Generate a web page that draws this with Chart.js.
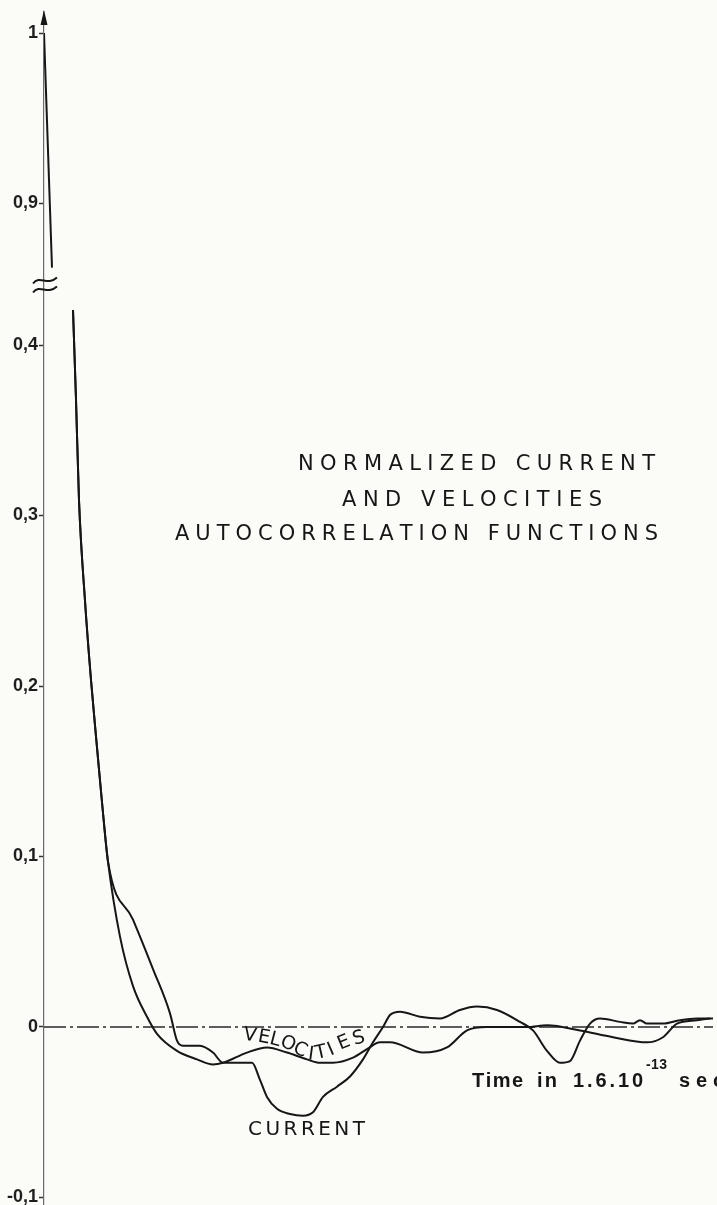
<!DOCTYPE html>
<html>
<head>
<meta charset="utf-8">
<script src="https://cdn.jsdelivr.net/npm/chart.js@4.4.0/dist/chart.umd.min.js"></script>
<style>
  body { margin: 0; background: #fbfbf8; }
  #wrap { width: 717px; height: 1205px; }
</style>
</head>
<body>
<div id="wrap"><canvas id="chartId" width="717" height="1205"></canvas></div>
<script>
// time axis in units of 1.6e-13 s
var xMax = 67.3

// upper part of the broken axis (both functions coincide there)
var timeTop = [0, 0.8]
var valueTop = [1.0, 0.862]

// steep common descent below the axis break
var timeHead = [2.9, 3.2, 3.5, 4.1, 4.7, 5.3, 5.9, 6.4]
var valueHead = [0.4205, 0.368, 0.309, 0.250, 0.2035, 0.164, 0.1255, 0.097]

var currentTime = [8.9, 10.9, 12.6, 13.3, 13.9, 15.6, 16.9, 17.9, 20.8, 21.6, 22.3, 23.3, 24.6, 25.9, 26.9,
    27.9, 29.3, 30.6, 31.9, 32.9, 33.9, 34.6, 35.6, 37.6, 39.6, 41.6, 43.3, 45.3, 47.6, 48.9,
    50.3, 51.6, 52.6, 53.6, 54.6, 55.6, 57.6, 58.9, 59.6, 60.3, 61.9, 63.6, 65.3, 66.9]
var currentValue = [0.063, 0.034, 0.008, -0.008, -0.011, -0.011, -0.015, -0.021, -0.021, -0.031, -0.041, -0.048, -0.051, -0.052, -0.050,
    -0.041, -0.035, -0.029, -0.019, -0.009, 0, 0.007, 0.009, 0.006, 0.005, 0.010, 0.012, 0.010, 0.003, -0.002,
    -0.014, -0.021, -0.020, -0.008, 0.002, 0.005, 0.003, 0.002, 0.004, 0.002, 0.002, 0.004, 0.005, 0.005]

var velocityTime = [7.6, 8.9, 10.3, 11.3, 13.3, 15.3, 16.9, 17.9, 20.3, 22.3, 24.3, 26.3, 27.6, 28.9, 30.9,
    32.3, 33.6, 34.6, 37.9, 40.3, 42.3, 44.3, 48.3, 50.3, 53.6, 56.9, 60.3, 61.9, 63.3, 65.3, 66.6]
var velocityValue = [0.053, 0.024, 0.006, -0.004, -0.014, -0.019, -0.022, -0.021, -0.015, -0.012, -0.015, -0.019, -0.021, -0.021, -0.018,
    -0.013, -0.009, -0.009, -0.015, -0.012, -0.002, 0, 0, 0.001, -0.002, -0.006, -0.009, -0.006, 0.002, 0.004, 0.005]

var topTicks = [0.9, 1.0]
var bottomTicks = [-0.1, 0, 0.1, 0.2, 0.3, 0.4]
var zeroLineEnd = 66.9

function points(xs, ys) {
    return xs.map((x, i) => ({ x: x, y: ys[i] }))
}

function tickText(v) {
    if (Math.abs(v) < 1e-9) return '0'
    if (Math.abs(v - 1) < 1e-9) return '1'
    return v.toFixed(1).replace('.', ',')
}

// spreads the characters of a string evenly between two x positions
function fitText(ctx, text, left, right, baseline) {
    var chars = [...text]
    var widths = chars.map(c => ctx.measureText(c).width)
    var natural = widths.reduce((a, b) => a + b, 0)
    var gap = chars.length > 1 ? (right - left - natural) / (chars.length - 1) : 0
    var x = left
    chars.forEach((c, i) => {
        ctx.fillText(c, x, baseline)
        x += widths[i] + gap
    })
}

var ink = '#161616'

var decorations = {
    id: 'decorations',
    afterDraw(chart) {
        var ctx = chart.ctx
        var xs = chart.scales.x
        var yb = chart.scales.yBottom
        var yt = chart.scales.yTop
        var ax = chart.chartArea.left

        ctx.save()
        ctx.fillStyle = ink
        ctx.strokeStyle = ink

        // arrow head on the value axis
        ctx.beginPath()
        ctx.moveTo(ax, yt.top - 2)
        ctx.lineTo(ax - 3.5, yt.top + 13)
        ctx.lineTo(ax + 3.5, yt.top + 13)
        ctx.closePath()
        ctx.fill()

        // break mark between the two axis parts
        ctx.lineWidth = 2
        var by = yb.top
        ;[-5, 4].forEach(d => {
            ctx.beginPath()
            ctx.moveTo(ax - 11, by + d + 3)
            ctx.bezierCurveTo(ax - 4, by + d - 6, ax + 3, by + d + 6, ax + 13, by + d - 3)
            ctx.stroke()
        })

        ctx.textAlign = 'left'
        ctx.textBaseline = 'alphabetic'

        // title
        ctx.font = '21px "DejaVu Sans"'
        fitText(ctx, 'NORMALIZED CURRENT', 298, 655, 470)
        fitText(ctx, 'AND VELOCITIES', 342, 602, 506)
        fitText(ctx, 'AUTOCORRELATION FUNCTIONS', 175, 658, 540)

        // time axis caption, runs off the right edge
        ctx.font = 'bold 20px "Liberation Sans"'
        fitText(ctx, 'Time', 472, 523, 1087)
        fitText(ctx, 'in', 537, 557, 1087)
        fitText(ctx, '1.6.10', 573, 643, 1087)
        fitText(ctx, 'sec', 679, 724, 1087)
        ctx.font = 'bold 14px "Liberation Sans"'
        fitText(ctx, '-13', 646, 667, 1069)

        // curve names
        ctx.font = '20px "DejaVu Sans"'
        fitText(ctx, 'CURRENT', 248, 365, 1135)

        var word = [...'VELOCITIES']
        var spotT = [20.6, 22.0, 23.1, 24.4, 25.6, 26.7, 27.7, 28.7, 30.0, 31.5]
        var spotV = [-0.0050, -0.0063, -0.0076, -0.0100, -0.0135, -0.0162, -0.0152, -0.0135, -0.0094, -0.0068]
        var px = spotT.map(t => xs.getPixelForValue(t))
        var py = spotV.map(v => yb.getPixelForValue(v))
        ctx.font = '19px "DejaVu Sans"'
        ctx.textAlign = 'center'
        ctx.textBaseline = 'middle'
        word.forEach((c, i) => {
            var a = Math.max(i - 1, 0), b = Math.min(i + 1, word.length - 1)
            var ang = Math.atan2(py[b] - py[a], px[b] - px[a])
            ctx.save()
            ctx.translate(px[i], py[i])
            ctx.rotate(ang)
            ctx.fillText(c, 0, 0)
            ctx.restore()
        })
        ctx.restore()
    }
}

var axisCommon = {
    type: 'linear',
    position: 'left',
    stack: 'value',
    grid: { drawOnChartArea: false, drawTicks: true, tickLength: 5, tickWidth: 1.5, tickColor: '#333' },
    border: { color: '#6a6a6a', width: 1.2 },
    ticks: {
        padding: 1,
        color: '#1e1e1e',
        font: { family: 'Liberation Sans', size: 18, weight: 'bold' },
        callback: v => tickText(v)
    },
    // fixed axis width, and no extra room reserved for the end labels
    afterFit: s => {
        s.width = 44
        s.paddingTop = 0
        s.paddingBottom = 0
    }
}

var lineStyle = {
    borderColor: ink,
    borderWidth: 2,
    pointRadius: 0,
    fill: false,
    cubicInterpolationMode: 'monotone'
}

var chrt = document.getElementById('chartId').getContext('2d')
var acfChart = new Chart(chrt, {
    type: 'line',
    data: {
        datasets: [
            Object.assign({ label: 'start', data: points(timeTop, valueTop), yAxisID: 'yTop' }, lineStyle),
            Object.assign({ label: 'Current', data: points(timeHead.concat(currentTime), valueHead.concat(currentValue)), yAxisID: 'yBottom' }, lineStyle),
            Object.assign({ label: 'Velocities', data: points(timeHead.concat(velocityTime), valueHead.concat(velocityValue)), yAxisID: 'yBottom' }, lineStyle),
            {
                label: 'zero',
                data: points([0, zeroLineEnd], [0, 0]),
                yAxisID: 'yBottom',
                borderColor: '#2a2a2a',
                borderWidth: 1.5,
                borderDash: [22, 4, 3, 4],
                pointRadius: 0
            }
        ]
    },
    options: {
        responsive: false,
        animation: false,
        layout: { autoPadding: false, padding: { top: 12, left: 0, right: 0, bottom: 0 } },
        plugins: { legend: { display: false }, tooltip: { enabled: false } },
        scales: {
            x: { type: 'linear', min: 0, max: xMax, display: false },
            // stacked axes are laid out bottom first
            yBottom: Object.assign({}, axisCommon, {
                min: -0.1044, max: 0.4349, stackWeight: 919.5,
                afterBuildTicks: s => { s.ticks = bottomTicks.map(v => ({ value: v })) }
            }),
            yTop: Object.assign({}, axisCommon, {
                min: 0.8515, max: 1.0124, stackWeight: 273.5,
                afterBuildTicks: s => { s.ticks = topTicks.map(v => ({ value: v })) }
            })
        }
    },
    plugins: [decorations]
})
</script>
</body>
</html>
